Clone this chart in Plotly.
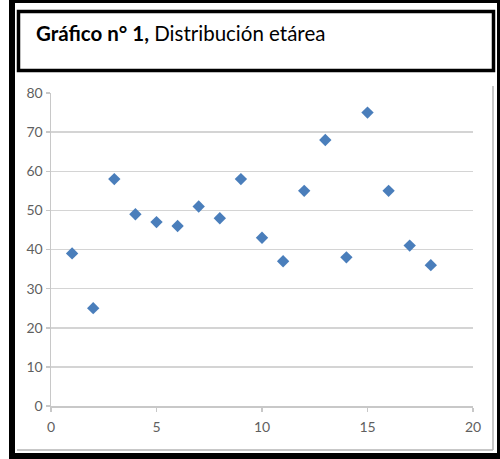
import plotly.graph_objects as go

# Data
x_vals = [1, 2, 3, 4, 5, 6, 7, 8, 9, 10, 11, 12, 13, 14, 15, 16, 17, 18]
y_vals = [39, 25, 58, 49, 47, 46, 51, 48, 58, 43, 37, 55, 68, 38, 75, 55, 41, 36]
x_ticks = [0, 5, 10, 15, 20]
y_ticks = [0, 10, 20, 30, 40, 50, 60, 70, 80]
title_bold = "Gráfico n° 1,"
title_rest = " Distribución etárea"

W, H = 500, 459
L, R, T, B = 51, 27, 93, 53
PW, PH = W - L - R, H - T - B


def px(xp):
    return (xp - L) / PW


def py(yp):
    return 1 - (yp - T) / PH


fig = go.Figure()
fig.add_trace(go.Scatter(
    x=x_vals, y=y_vals, mode="markers",
    marker=dict(symbol="diamond", size=9.5, color="#4A7EBB",
                line=dict(width=0)),
    showlegend=False, hoverinfo="skip",
))

axis_gray = "#c8c8c8"
tick_font = dict(family="Lato", size=14, color="#5f5f5f")

fig.update_xaxes(
    range=[0, 20], tickvals=x_ticks, showgrid=False, zeroline=False,
    showline=True, linecolor=axis_gray, linewidth=1.5,
    ticks="outside", ticklen=4, tickcolor=axis_gray, tickwidth=1.5,
    tickfont=tick_font, ticklabelstandoff=4, automargin=False, fixedrange=True,
    showspikes=False,
)
fig.update_yaxes(
    range=[0, 80], tickvals=y_ticks, showgrid=True, gridcolor="#d4d4d4",
    gridwidth=1.5, zeroline=False,
    showline=True, linecolor=axis_gray, linewidth=1.5,
    ticks="outside", ticklen=4, tickcolor=axis_gray, tickwidth=1.5,
    tickfont=tick_font, automargin=False, fixedrange=True,
    showspikes=False,
)

shapes = []
# outer black frame (filled bands)
for x0, y0, x1, y1 in [(9, 0, 15, 459), (9, 0, 500, 3), (497, 0, 500, 459), (9, 453, 500, 459)]:
    shapes.append(dict(type="rect", xref="paper", yref="paper",
                       x0=px(x0), x1=px(x1), y0=py(y0), y1=py(y1),
                       fillcolor="black", line=dict(width=0), layer="above"))
# title box
shapes.append(dict(type="rect", xref="paper", yref="paper",
                   x0=px(18.5), x1=px(493.5), y0=py(11.5), y1=py(70.5),
                   fillcolor="rgba(0,0,0,0)", line=dict(color="black", width=3.5)))
# chart area gray border (right and bottom)
shapes.append(dict(type="line", xref="paper", yref="paper",
                   x0=px(17), x1=px(493), y0=py(450), y1=py(450),
                   line=dict(color="#b4b4b4", width=1.5)))
shapes.append(dict(type="line", xref="paper", yref="paper",
                   x0=px(493), x1=px(493), y0=py(86), y1=py(450),
                   line=dict(color="#b4b4b4", width=1.5)))

fig.update_layout(
    width=W, height=H,
    margin=dict(l=L, r=R, t=T, b=B, autoexpand=False),
    paper_bgcolor="white", plot_bgcolor="white",
    hovermode=False,
    shapes=shapes,
    annotations=[dict(
        xref="paper", yref="paper", x=px(34), y=py(33),
        xanchor="left", yanchor="middle", showarrow=False,
        text=f"<b>{title_bold}</b>{title_rest}",
        font=dict(family="Lato", size=20.5, color="black"),
    )],
)

fig.write_html(
    "out.html",
    config={"displayModeBar": False, "staticPlot": True},
    post_script="document.body.style.margin='0';document.body.style.overflow='hidden';",
)
